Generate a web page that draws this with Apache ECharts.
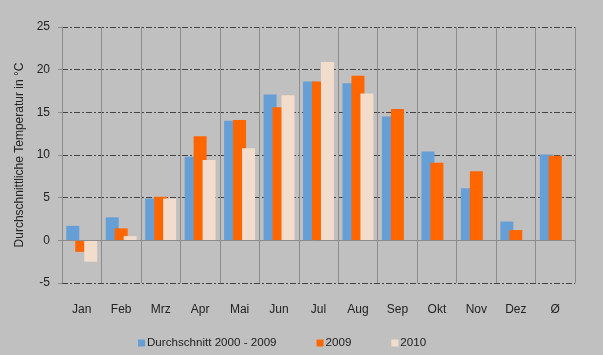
<!DOCTYPE html>
<html><head><meta charset="utf-8">
<script src="https://cdn.jsdelivr.net/npm/echarts@6/dist/echarts.min.js"></script>
<style>html,body{margin:0;padding:0;background:#c0c0c0}#c{width:603px;height:355px}</style>
</head><body><div id="c"></div>
<script>
const categories = ['Jan','Feb','Mrz','Apr','Mai','Jun','Jul','Aug','Sep','Okt','Nov','Dez','Ø'];
const avg2000_2009 = [1.7, 2.7, 4.9, 9.8, 14.0, 17.1, 18.6, 18.4, 14.5, 10.4, 6.1, 2.2, 10.05];
const y2009 = [-1.35, 1.4, 5.1, 12.2, 14.1, 15.6, 18.6, 19.3, 15.4, 9.1, 8.1, 1.2, 9.9];
const y2010 = [-2.5, 0.5, 4.9, 9.4, 10.8, 17.0, 20.9, 17.2, null, null, null, null, null];
const yTicks = { min: -5, max: 25, interval: 5 };
const seriesNames = ['Durchschnitt 2000 - 2009', '2009', '2010'];

const chart = echarts.init(document.getElementById('c'));
const font = 'Liberation Sans, Arial, sans-serif';
chart.setOption({
  backgroundColor: '#c0c0c0',
  animation: false,
  textStyle: { fontFamily: font },
  grid: { left: 62, right: 28, top: 27, bottom: 72 },
  legend: {
    bottom: 1, left: 133,
    itemWidth: 7, itemHeight: 7, itemGap: 40,
    icon: 'rect',
    textStyle: { fontSize: 11.6, color: '#222', fontFamily: font, padding: [0,0,0,-3] },
    data: seriesNames
  },
  xAxis: {
    type: 'category', data: categories,
    axisLine: { show: false },
    axisTick: { show: false },
    axisLabel: { color: '#222', fontSize: 12, margin: 21, fontFamily: font },
    splitLine: { show: true, lineStyle: { color: '#8c8c8c', width: 1 } }
  },
  yAxis: {
    type: 'value', min: yTicks.min, max: yTicks.max, interval: yTicks.interval,
    name: 'Durchschnittliche Temperatur in °C',
    nameLocation: 'middle', nameGap: 29, nameRotate: 90,
    nameTextStyle: { fontSize: 12, color: '#222', fontFamily: font },
    axisLine: { show: true, lineStyle: { color: '#8c8c8c' } },
    axisTick: { show: true, length: 4, lineStyle: { color: '#8c8c8c' } },
    axisLabel: { color: '#222', fontSize: 12, margin: 12, fontFamily: font },
    splitLine: { show: true, lineStyle: { color: '#444', type: [6, 2, 2, 2], width: 1 } }
  },
  series: [
    { name: seriesNames[0], type: 'bar', data: avg2000_2009, barWidth: 13, barGap: '-31%', barCategoryGap: '20%',
      itemStyle: { color: '#669ed6' },
      markLine: { silent: true, symbol: 'none', label: { show: false },
        lineStyle: { color: '#8c8c8c', type: 'solid', width: 1 }, data: [{ yAxis: 0 }] } },
    { name: seriesNames[1], type: 'bar', data: y2009, barWidth: 13, barGap: '-31%',
      itemStyle: { color: '#ff6600' } },
    { name: seriesNames[2], type: 'bar', data: y2010, barWidth: 13, barGap: '-31%',
      itemStyle: { color: '#f2dccb' } }
  ]
});
</script></body></html>
